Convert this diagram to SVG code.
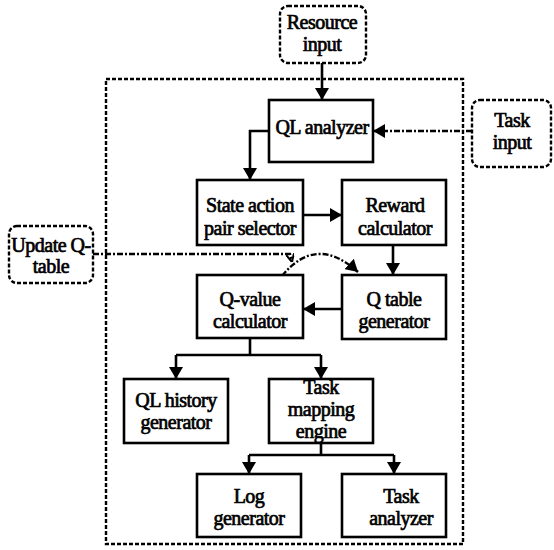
<svg xmlns="http://www.w3.org/2000/svg" width="554" height="550" viewBox="0 0 554 550">
  <style>
    .box { fill: #ffffff; stroke: #000000; stroke-width: 2.6; }
    .ext { fill: #ffffff; stroke: #000000; stroke-width: 2.4; stroke-dasharray: 4 2; }
    .frame { fill: none; stroke: #000000; stroke-width: 2.4; stroke-dasharray: 4 2; }
    .link { fill: none; stroke: #000000; stroke-width: 2.6; }
    .dlink { fill: none; stroke: #000000; stroke-width: 2.4; stroke-dasharray: 6 2 2 2; }
    text { font-family: "Liberation Serif", "Times New Roman", serif; font-size: 20px; letter-spacing: -0.5px; fill: #000000; stroke: #000000; stroke-width: 0.7; text-anchor: middle; }
  </style>
  <defs>
    <marker id="arrow" viewBox="0 0 12 14" refX="12" refY="7" markerWidth="12" markerHeight="14" markerUnits="userSpaceOnUse" orient="auto">
      <path d="M0,0 L12,7 L0,14 z" fill="#000000"/>
    </marker>
    <marker id="tick" viewBox="0 0 8 8" refX="8" refY="4" markerWidth="8" markerHeight="8" markerUnits="userSpaceOnUse" orient="auto">
      <path d="M0,0 L8,4 L0,8" fill="none" stroke="#000000" stroke-width="2"/>
    </marker>
  </defs>

  <!-- system boundary -->
  <rect class="frame" x="106" y="79" width="357" height="465"/>

  <!-- connectors -->
  <g id="connectors">
    <path class="link" d="M322 63 V100" marker-end="url(#arrow)"/>
    <path class="link" d="M269 131 H250 V180" marker-end="url(#arrow)"/>
    <path class="dlink" d="M472 131 H373" marker-end="url(#arrow)"/>
    <path class="link" d="M303 215 H342" marker-end="url(#arrow)"/>
    <path class="link" d="M393 245 V275" marker-end="url(#arrow)"/>
    <path class="link" d="M342 309 H303" marker-end="url(#arrow)"/>
    <path class="link" d="M250 338 V355 M176 355 H321"/>
    <path class="link" d="M176 355 V379" marker-end="url(#arrow)"/>
    <path class="link" d="M321 355 V379" marker-end="url(#arrow)"/>
    <path class="link" d="M321 443 V455 M249 455 H394"/>
    <path class="link" d="M249 455 V474" marker-end="url(#arrow)"/>
    <path class="link" d="M394 455 V474" marker-end="url(#arrow)"/>
    <path class="dlink" d="M93 254 H290 L292 262" marker-end="url(#tick)"/>
    <path class="dlink" d="M282 276 Q316 234 358 272" marker-end="url(#arrow)"/>
  </g>

  <!-- external inputs -->
  <g id="resource-input">
    <rect class="ext" x="280" y="6" width="86" height="57" rx="8"/>
    <text x="322" y="29">Resource</text>
    <text x="322" y="51">input</text>
  </g>
  <g id="task-input">
    <rect class="ext" x="472" y="100" width="79" height="67" rx="8"/>
    <text x="512" y="127">Task</text>
    <text x="512" y="149">input</text>
  </g>
  <g id="update-q-table">
    <rect class="ext" x="9" y="226" width="84" height="57" rx="8"/>
    <text x="51" y="252">Update Q-</text>
    <text x="51" y="273">table</text>
  </g>

  <!-- processing blocks -->
  <g id="ql-analyzer">
    <rect class="box" x="269" y="100" width="104" height="62"/>
    <text x="322" y="134">QL analyzer</text>
  </g>
  <g id="state-action-pair-selector">
    <rect class="box" x="197" y="180" width="106" height="65"/>
    <text x="250" y="212">State action</text>
    <text x="250" y="235">pair selector</text>
  </g>
  <g id="reward-calculator">
    <rect class="box" x="342" y="180" width="104" height="65"/>
    <text x="395" y="212">Reward</text>
    <text x="395" y="235">calculator</text>
  </g>
  <g id="q-value-calculator">
    <rect class="box" x="197" y="275" width="106" height="63"/>
    <text x="250" y="306">Q-value</text>
    <text x="250" y="328">calculator</text>
  </g>
  <g id="q-table-generator">
    <rect class="box" x="342" y="275" width="104" height="64"/>
    <text x="394" y="306">Q table</text>
    <text x="394" y="328">generator</text>
  </g>
  <g id="ql-history-generator">
    <rect class="box" x="124" y="379" width="104" height="64"/>
    <text x="176" y="407">QL history</text>
    <text x="176" y="429">generator</text>
  </g>
  <g id="task-mapping-engine">
    <rect class="box" x="269" y="379" width="104" height="64"/>
    <text x="321" y="394">Task</text>
    <text x="321" y="416">mapping</text>
    <text x="321" y="438">engine</text>
  </g>
  <g id="log-generator">
    <rect class="box" x="197" y="474" width="104" height="63"/>
    <text x="249" y="503">Log</text>
    <text x="249" y="525">generator</text>
  </g>
  <g id="task-analyzer">
    <rect class="box" x="342" y="474" width="104" height="63"/>
    <text x="401" y="503">Task</text>
    <text x="401" y="525">analyzer</text>
  </g>
</svg>
